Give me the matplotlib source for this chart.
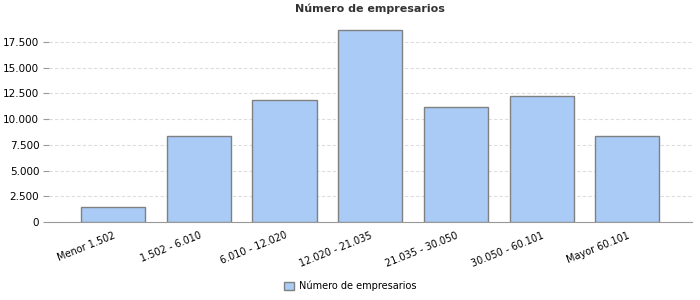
import matplotlib
matplotlib.use("Agg")
import matplotlib.pyplot as plt
from matplotlib.ticker import FuncFormatter, MultipleLocator

categorias = ["Menor 1.502", "1.502 - 6.010", "6.010 - 12.020", "12.020 - 21.035",
              "21.035 - 30.050", "30.050 - 60.101", "Mayor 60.101"]
empresarios = [1480, 8350, 11870, 18630, 11150, 12220, 8350]
titulo = "Número de empresarios"

plt.rcParams['font.family'] = ['DejaVu Sans']

fig = plt.figure(figsize=(7, 3), dpi=100)
ax = fig.add_axes([0.07, 0.26, 0.918, 0.655])

x = list(range(len(categorias)))
ax.bar(x, empresarios, width=0.75, color="#a9cbf5", edgecolor="#808080",
       linewidth=1, label=titulo, zorder=3)

ax.set_xlim(-0.75, 6.75)
ax.set_ylim(0, 19100)
ax.yaxis.set_major_locator(MultipleLocator(2500))
ax.yaxis.set_major_formatter(FuncFormatter(lambda v, p: f"{int(v):,}".replace(",", ".")))
ax.grid(axis="y", color="#dddddd", linestyle=(0, (3, 2)), linewidth=0.8, zorder=0)

for s in ["top", "right", "left"]:
    ax.spines[s].set_visible(False)
ax.spines["bottom"].set_color("#999999")

ax.set_xticks(x)
ax.set_xticklabels(categorias, rotation=22, ha="right", rotation_mode="anchor", fontsize=7)
ax.tick_params(axis="x", length=0, pad=6)
ax.tick_params(axis="y", length=4, color="#999999", labelsize=7.5, pad=3)

ax.set_title(titulo, fontsize=8, fontweight="bold", color="#333333", pad=10)

fig.legend(loc="lower center", bbox_to_anchor=(0.5, 0.0), frameon=False, fontsize=7,
           handlelength=1, handleheight=1, handletextpad=0.5)

fig.savefig("out.png", dpi=100)
